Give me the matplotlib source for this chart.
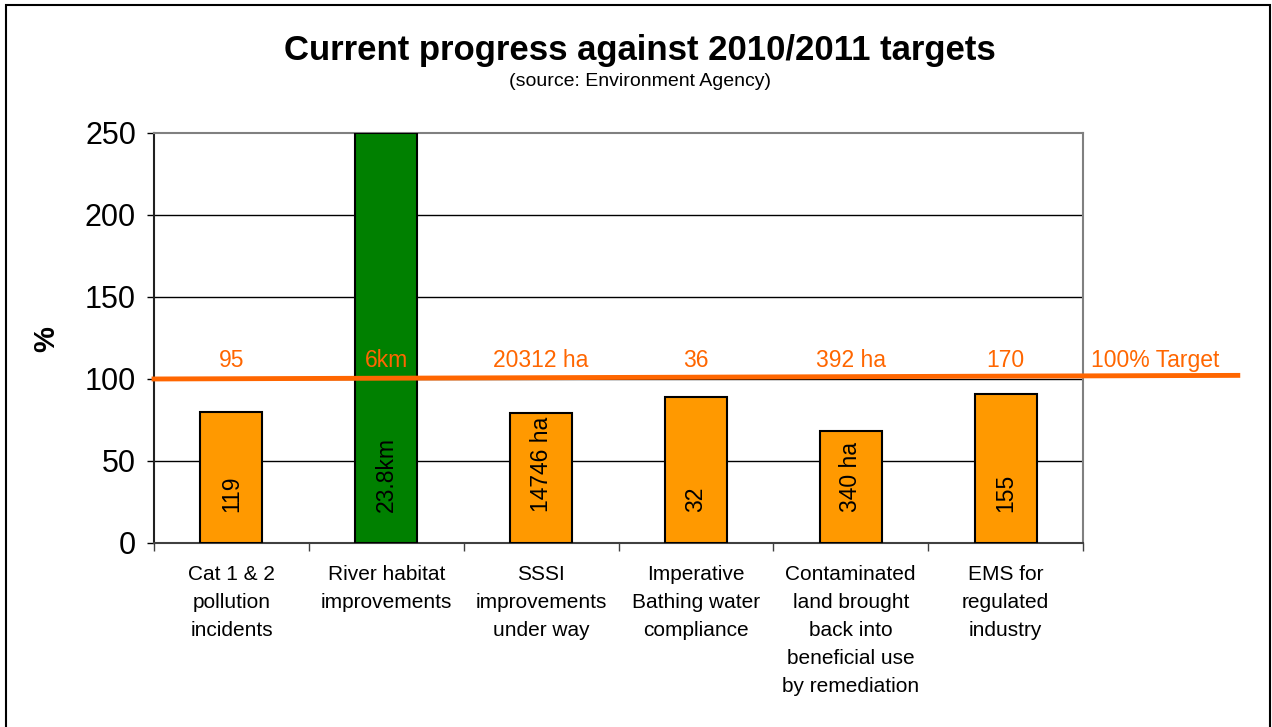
import numpy as np
import matplotlib.pyplot as plt
from matplotlib.patches import Rectangle

plt.rcParams['font.family'] = ['Liberation Sans', 'DejaVu Sans']

# Dados do gráfico
categorias = ['Cat 1 & 2\npollution\nincidents',
              'River habitat\nimprovements',
              'SSSI\nimprovements\nunder way',
              'Imperative\nBathing water\ncompliance',
              'Contaminated\nland brought\nback into\nbeneficial use\nby remediation',
              'EMS for\nregulated\nindustry']
progresso = [80, 250, 79, 89, 68, 91]
rotulos_atual = ['119', '23.8km', '14746 ha', '32', '340 ha', '155']
rotulos_meta = ['95', '6km', '20312 ha', '36', '392 ha', '170']
cores = ['#FF9900', '#008000', '#FF9900', '#FF9900', '#FF9900', '#FF9900']
meta = [100, 102.2]   # linha de meta (início e fim)
y_ticks = [0, 50, 100, 150, 200, 250]

laranja = '#FF6600'

fig = plt.figure(figsize=(12.72, 7.27), dpi=100)
ax = fig.add_axes([0.1211, 0.2531, 0.7303, 0.564])

x = np.arange(len(categorias)) + 0.5
ax.bar(x, progresso, width=0.4, color=cores, edgecolor='black', linewidth=1.5, zorder=3)

# Rótulos dentro das barras
for xi, txt in zip(x, rotulos_atual):
    ax.annotate(txt, (xi, 0), xytext=(0, 22), textcoords='offset points',
                rotation=90, ha='center', va='bottom', fontsize=16.5, color='black', zorder=5)

# Linha de meta 100%
ax.plot([0, 7], meta, color=laranja, linewidth=3.5, clip_on=False, zorder=4)
for xi, txt in zip(x, rotulos_meta):
    ax.annotate(txt, (xi, meta[0]), xytext=(0, 5), textcoords='offset points',
                ha='center', va='bottom', fontsize=16.5, color=laranja, zorder=5)
ax.annotate('100% Target', (6.05, meta[0]), xytext=(0, 5), textcoords='offset points',
            ha='left', va='bottom', fontsize=16.5, color=laranja, annotation_clip=False)

# Eixos
ax.set_xlim(0, 6)
ax.set_ylim(0, 250)
ax.set_yticks(y_ticks)
ax.tick_params(axis='y', labelsize=22, length=5, width=1, pad=8, direction='out')
ax.set_xticks(np.arange(0, 7))
ax.set_xticklabels([])
ax.tick_params(axis='x', which='major', length=6, width=1, direction='out', color='#404040')
ax.set_xticks(x, minor=True)
ax.set_xticklabels(categorias, minor=True, fontsize=15, linespacing=1.6, va='top')
ax.tick_params(axis='x', which='minor', length=0, pad=16)

for y in y_ticks[1:-1]:
    ax.axhline(y, color='black', linewidth=1, zorder=1)
for lado in ['top', 'right']:
    ax.spines[lado].set_color('#808080')
    ax.spines[lado].set_linewidth(1.5)
ax.spines['left'].set_color('#202020')
ax.spines['bottom'].set_color('#404040')
ax.spines['left'].set_linewidth(1.5)
ax.spines['bottom'].set_linewidth(1.5)

# Títulos
fig.text(0.503, 0.930, 'Current progress against 2010/2011 targets',
         ha='center', va='center', fontsize=25, fontweight='bold')
fig.text(0.503, 0.888, '(source: Environment Agency)',
         ha='center', va='center', fontsize=14)
fig.text(0.036, 0.533, '%', rotation=90, ha='center', va='center',
         fontsize=21, fontweight='bold')

# Moldura da figura
fig.patches.append(Rectangle((0.0047, -0.01), 0.9937, 1.0031, transform=fig.transFigure,
                             fill=False, edgecolor='black', linewidth=1.5))

plt.savefig('out.png', dpi=100)
